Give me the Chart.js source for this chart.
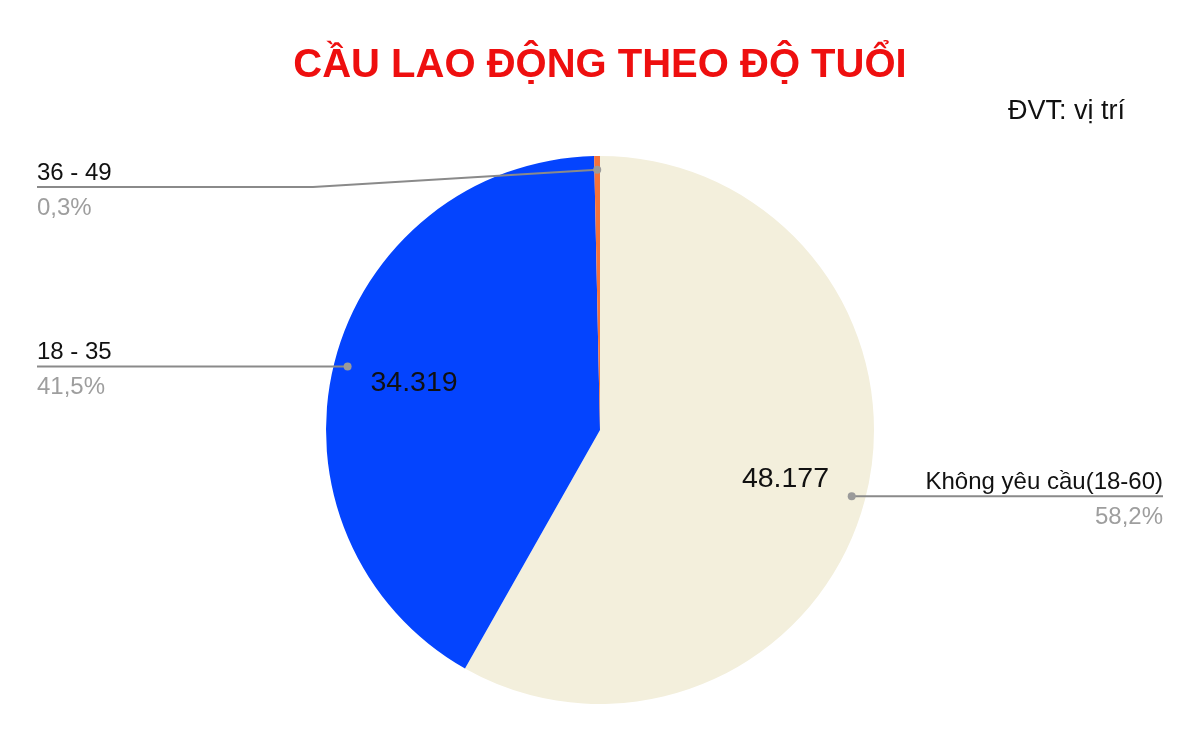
<!DOCTYPE html>
<html>
<head>
<meta charset="utf-8">
<script src="https://cdn.jsdelivr.net/npm/chart.js@4/dist/chart.umd.min.js"></script>
<style>
  html, body { margin: 0; padding: 0; background: #fff; }
  #wrap { width: 1200px; height: 742px; }
</style>
</head>
<body>
<div id="wrap"><canvas id="pieChart"></canvas></div>
<script>
const title = 'CẦU LAO ĐỘNG THEO ĐỘ TUỔI';
const unitNote = 'ĐVT: vị trí';
const labels = ['Không yêu cầu(18-60)', '18 - 35', '36 - 49'];
const values = [48177, 34319, 282];
const colors = ['#f3efdc', '#0444fe', '#f4733b'];
const showValue = [true, true, false];

const total = values.reduce((a, b) => a + b, 0);
const fmtValue = v => String(v).replace(/\B(?=(\d{3})+(?!\d))/g, '.');
const fmtPct = v => (v / total * 100).toFixed(1).replace('.', ',') + '%';

// title, unit note, value labels and leader lines
const decorations = {
    id: 'decorations',
    afterDraw(chart) {
        const c = chart.ctx;
        const w = chart.width;
        c.save();
        c.textBaseline = 'alphabetic';

        c.fillStyle = '#ee0f0f';
        c.font = 'bold 40px "Liberation Sans", Arial, sans-serif';
        c.textAlign = 'center';
        c.fillText(title, w / 2, 77);

        c.fillStyle = '#111';
        c.font = '27px "Liberation Sans", Arial, sans-serif';
        c.textAlign = 'right';
        c.fillText(unitNote, 1125, 119);

        const meta = chart.getDatasetMeta(0);
        meta.data.forEach((arc, i) => {
            const mid = (arc.startAngle + arc.endAngle) / 2;
            const r = arc.outerRadius;
            const cx = arc.x, cy = arc.y;

            if (showValue[i]) {
                c.fillStyle = '#111';
                c.font = '28.5px "Liberation Sans", Arial, sans-serif';
                c.textAlign = 'center';
                c.textBaseline = 'middle';
                c.fillText(fmtValue(values[i]), cx + Math.cos(mid) * r * 0.70, cy + Math.sin(mid) * r * 0.70);
                c.textBaseline = 'alphabetic';
            }

            const dx = cx + Math.cos(mid) * r * 0.95;
            const dy = cy + Math.sin(mid) * r * 0.95;
            const right = Math.cos(mid) > 0;
            const lineY = Math.max(dy, 187);
            const endX = right ? 1163 : 37;
            const bendX = right ? dx : 313;

            c.strokeStyle = '#8a8a8a';
            c.lineWidth = 2;
            c.beginPath();
            c.moveTo(dx, dy);
            if (lineY !== dy) c.lineTo(bendX, lineY);
            c.lineTo(endX, lineY);
            c.stroke();

            c.fillStyle = '#9a9a9a';
            c.beginPath();
            c.arc(dx, dy, 4, 0, Math.PI * 2);
            c.fill();

            c.textAlign = right ? 'right' : 'left';
            c.font = '24px "Liberation Sans", Arial, sans-serif';
            c.fillStyle = '#111';
            c.fillText(labels[i], endX, lineY - 7);
            c.fillStyle = '#9e9e9e';
            c.fillText(fmtPct(values[i]), endX, lineY + 28);
        });
        c.restore();
    }
};

const ctx = document.getElementById('pieChart').getContext('2d');
const pieChart = new Chart(ctx, {
    type: 'pie',
    data: {
        labels: labels,
        datasets: [{
            data: values,
            backgroundColor: colors,
            borderWidth: 0
        }]
    },
    options: {
        responsive: true,
        maintainAspectRatio: false,
        animation: false,
        layout: { padding: { top: 156, bottom: 38, left: 0, right: 0 } },
        plugins: {
            legend: { display: false },
            tooltip: { enabled: false }
        }
    },
    plugins: [decorations]
});
</script>
</body>
</html>
